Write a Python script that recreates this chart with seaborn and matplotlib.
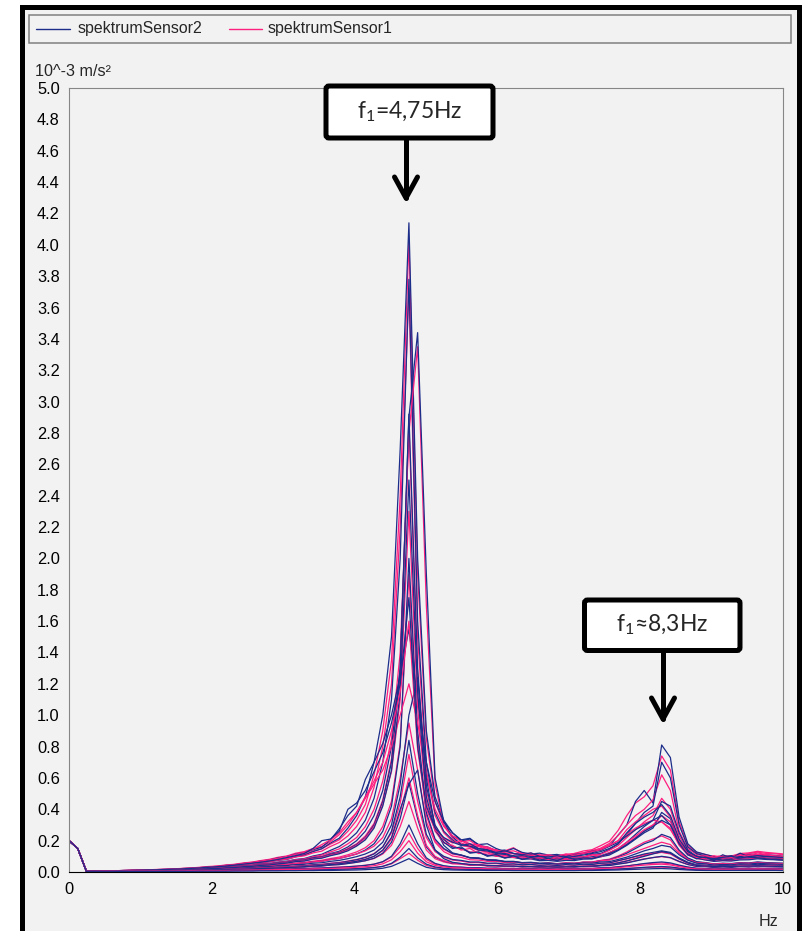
import numpy as np
import matplotlib
matplotlib.use('Agg')
import matplotlib.pyplot as plt
import matplotlib.transforms as mtransforms
from matplotlib.patches import Rectangle, FancyBboxPatch
from matplotlib.lines import Line2D
import seaborn as sns

W, H = 802, 931

# FFT bins (250 Hz / 2048 points), values below in 1e-6 m/s^2 (plotted as 10^-3)
freq_hz = np.arange(83) * 250 / 2048

s2_r01 = [200, 150, 5, 6, 7, 8, 9, 10,
          11, 12, 14, 15, 17, 19, 21, 24,
          28, 33, 36, 43, 47, 55, 58, 66,
          74, 80, 97, 108, 130, 148, 185, 215,
          280, 360, 480, 700, 1000, 1500, 2700, 4140,
          2000, 900, 480, 330, 250, 205, 215, 170,
          160, 135, 140, 118, 112, 98, 100, 88,
          95, 104, 100, 118, 122, 145, 165, 235,
          300, 450, 520, 440, 810, 730, 350, 180,
          128, 112, 98, 96, 104, 100, 115, 112,
          110, 106, 100]
s1_r01 = [200, 150, 5, 6, 7, 8, 9, 10,
          11, 12, 13, 15, 17, 19, 22, 25,
          30, 33, 41, 45, 53, 57, 66, 70,
          82, 88, 104, 112, 134, 148, 178, 205,
          260, 330, 430, 620, 900, 1350, 2400, 4030,
          1900, 850, 450, 300, 230, 205, 180, 170,
          148, 142, 122, 118, 108, 106, 98, 102,
          104, 112, 118, 134, 142, 168, 196, 265,
          360, 440, 480, 550, 740, 650, 320, 170,
          125, 112, 98, 104, 102, 118, 122, 132,
          125, 120, 115]
s2_r02 = [200, 150, 5, 5, 6, 7, 8, 9,
          10, 11, 12, 13, 15, 17, 19, 21,
          25, 27, 33, 35, 41, 44, 52, 55,
          63, 69, 80, 86, 102, 113, 138, 162,
          200, 250, 330, 470, 700, 1100, 2000, 3780,
          1600, 700, 380, 260, 205, 170, 165, 148,
          142, 122, 118, 102, 104, 92, 94, 84,
          88, 86, 98, 96, 112, 118, 144, 178,
          240, 310, 380, 420, 700, 600, 300, 160,
          118, 102, 88, 90, 84, 94, 92, 102,
          98, 96, 90]
s1_r02 = [200, 150, 5, 6, 6, 7, 8, 9,
          10, 11, 13, 14, 16, 18, 20, 23,
          27, 29, 36, 39, 47, 51, 59, 65,
          76, 82, 96, 103, 122, 133, 163, 188,
          230, 290, 380, 540, 800, 1200, 2200, 3720,
          1500, 650, 360, 250, 195, 185, 165, 162,
          142, 133, 118, 117, 108, 112, 103, 101,
          98, 107, 108, 122, 133, 152, 182, 232,
          300, 360, 400, 460, 620, 520, 260, 150,
          112, 102, 93, 97, 98, 112, 118, 127,
          118, 116, 110]
s2_r03 = [200, 150, 5, 5, 6, 7, 8, 9,
          10, 11, 12, 13, 14, 16, 18, 20,
          24, 25, 31, 33, 39, 41, 48, 51,
          60, 63, 74, 78, 92, 98, 118, 132,
          160, 200, 260, 360, 520, 800, 1300, 2900,
          3440, 1900, 600, 320, 225, 175, 165, 140,
          134, 118, 112, 98, 97, 88, 87, 79,
          82, 78, 87, 88, 97, 103, 123, 148,
          190, 240, 290, 330, 450, 420, 250, 140,
          98, 87, 78, 82, 78, 87, 88, 92,
          88, 86, 80]
s1_r03 = [200, 150, 5, 5, 6, 7, 8, 9,
          10, 11, 12, 13, 15, 16, 18, 21,
          25, 26, 32, 34, 40, 43, 50, 54,
          62, 67, 78, 83, 97, 108, 128, 147,
          180, 220, 290, 400, 580, 850, 1400, 2800,
          3350, 1700, 560, 300, 215, 170, 158, 137,
          128, 112, 107, 98, 97, 88, 90, 83,
          87, 86, 94, 96, 107, 113, 138, 168,
          220, 270, 320, 360, 470, 400, 230, 130,
          93, 87, 78, 84, 83, 92, 93, 97,
          90, 89, 85]
s2_r04 = [200, 150, 5, 5, 6, 6, 7, 8,
          9, 10, 11, 12, 13, 15, 17, 19,
          22, 23, 28, 30, 36, 38, 45, 48,
          56, 61, 72, 76, 90, 96, 113, 122,
          145, 175, 220, 300, 450, 700, 1300, 2920,
          1300, 550, 300, 210, 160, 150, 125, 124,
          106, 103, 92, 93, 82, 83, 72, 74,
          68, 74, 73, 82, 83, 97, 108, 137,
          170, 210, 250, 280, 380, 340, 200, 120,
          88, 77, 68, 72, 70, 77, 78, 84,
          80, 78, 75]
s1_r04 = [200, 150, 5, 5, 6, 7, 7, 8,
          9, 10, 11, 12, 14, 15, 17, 19,
          23, 24, 29, 31, 37, 39, 46, 49,
          57, 62, 73, 78, 92, 98, 115, 126,
          150, 180, 230, 310, 460, 720, 1250, 2850,
          1250, 520, 290, 205, 160, 150, 128, 126,
          108, 108, 95, 95, 85, 87, 77, 80,
          74, 80, 80, 88, 90, 102, 113, 143,
          180, 220, 260, 300, 360, 320, 190, 115,
          86, 78, 70, 74, 73, 82, 83, 90,
          86, 82, 80]
s2_r05 = [200, 150, 5, 5, 5, 6, 6, 7,
          8, 9, 10, 11, 12, 13, 14, 16,
          19, 19, 23, 24, 29, 30, 35, 37,
          43, 46, 53, 57, 65, 69, 80, 86,
          100, 115, 140, 180, 260, 420, 800, 2000,
          900, 380, 210, 150, 118, 108, 92, 90,
          78, 77, 68, 68, 60, 62, 56, 58,
          53, 57, 56, 62, 62, 72, 78, 97,
          120, 150, 180, 200, 240, 220, 140, 90,
          66, 60, 52, 56, 54, 60, 58, 64,
          60, 58, 56]
s1_r05 = [200, 150, 5, 5, 6, 6, 7, 7,
          8, 9, 10, 11, 12, 14, 15, 17,
          20, 20, 25, 26, 31, 32, 38, 40,
          46, 49, 57, 61, 69, 75, 86, 95,
          110, 128, 155, 200, 290, 450, 820, 1900,
          850, 360, 200, 145, 115, 105, 90, 88,
          76, 74, 66, 66, 59, 60, 54, 57,
          53, 58, 56, 63, 64, 74, 82, 102,
          128, 160, 190, 210, 230, 205, 130, 85,
          63, 58, 50, 54, 52, 58, 56, 62,
          58, 56, 55]
s2_r06 = [200, 150, 5, 6, 7, 8, 9, 10,
          12, 13, 15, 17, 19, 22, 25, 28,
          33, 35, 42, 46, 54, 59, 69, 77,
          90, 98, 114, 123, 142, 158, 205, 275,
          360, 420, 590, 700, 820, 1000, 1250, 1550,
          1100, 700, 450, 320, 250, 200, 210, 175,
          180, 150, 130, 150, 125, 115, 120, 108,
          112, 98, 112, 116, 132, 138, 164, 188,
          230, 270, 300, 330, 360, 300, 190, 130,
          102, 88, 90, 88, 97, 98, 107, 108,
          105, 100, 98]
s1_r06 = [200, 150, 5, 6, 7, 8, 9, 11,
          12, 14, 16, 18, 20, 23, 26, 30,
          35, 38, 45, 49, 58, 63, 73, 81,
          94, 102, 120, 130, 150, 163, 192, 238,
          300, 380, 470, 560, 650, 800, 1000, 1200,
          950, 620, 400, 290, 230, 195, 200, 165,
          160, 138, 135, 155, 118, 112, 110, 104,
          106, 106, 118, 122, 138, 148, 174, 198,
          240, 280, 310, 330, 320, 270, 180, 125,
          102, 90, 92, 90, 98, 100, 110, 110,
          108, 104, 100]
s2_r07 = [200, 150, 5, 5, 6, 6, 7, 8,
          8, 9, 10, 11, 12, 13, 14, 15,
          18, 18, 22, 23, 27, 28, 33, 34,
          39, 41, 47, 49, 56, 59, 68, 74,
          85, 98, 115, 140, 190, 300, 560, 1000,
          1240, 600, 280, 170, 122, 108, 90, 86,
          76, 74, 66, 66, 58, 60, 54, 56,
          50, 54, 52, 58, 56, 64, 66, 80,
          95, 115, 135, 150, 170, 160, 110, 75,
          56, 52, 44, 48, 46, 52, 50, 56,
          52, 50, 48]
s1_r07 = [200, 150, 5, 5, 6, 6, 7, 8,
          9, 10, 11, 12, 13, 14, 15, 17,
          20, 20, 24, 25, 30, 31, 37, 39,
          45, 47, 54, 57, 65, 69, 79, 87,
          100, 115, 135, 165, 220, 340, 600, 950,
          650, 320, 190, 130, 102, 93, 78, 76,
          68, 68, 60, 62, 56, 58, 53, 56,
          52, 57, 55, 62, 62, 72, 76, 92,
          110, 130, 150, 170, 190, 175, 120, 80,
          60, 57, 50, 54, 51, 57, 55, 60,
          56, 54, 52]
s2_r08 = [200, 150, 5, 5, 5, 6, 6, 7,
          7, 8, 8, 9, 10, 11, 12, 13,
          15, 15, 18, 18, 22, 22, 26, 27,
          31, 32, 37, 39, 45, 47, 54, 59,
          68, 78, 92, 115, 160, 260, 480, 840,
          500, 240, 140, 100, 80, 74, 64, 64,
          56, 57, 50, 52, 46, 48, 43, 46,
          42, 47, 44, 50, 48, 56, 58, 72,
          85, 100, 115, 125, 135, 125, 90, 62,
          46, 44, 38, 42, 40, 46, 44, 50,
          46, 44, 42]
s1_r08 = [200, 150, 5, 5, 5, 6, 6, 7,
          7, 8, 9, 9, 10, 11, 12, 13,
          16, 16, 19, 19, 23, 23, 27, 28,
          33, 34, 39, 41, 47, 49, 56, 61,
          70, 80, 95, 118, 160, 250, 440, 750,
          450, 220, 130, 95, 76, 70, 60, 60,
          53, 54, 48, 50, 44, 47, 42, 45,
          41, 46, 43, 49, 48, 56, 58, 72,
          84, 98, 110, 120, 128, 118, 86, 60,
          44, 43, 37, 41, 39, 45, 43, 48,
          45, 43, 41]
s2_r09 = [200, 150, 5, 5, 5, 5, 6, 6,
          7, 7, 8, 8, 9, 10, 10, 11,
          13, 13, 15, 15, 18, 18, 22, 22,
          26, 26, 31, 32, 37, 38, 44, 47,
          54, 62, 72, 88, 120, 190, 340, 570,
          340, 160, 95, 70, 56, 54, 46, 47,
          40, 41, 36, 37, 33, 35, 31, 34,
          30, 34, 32, 36, 35, 40, 41, 50,
          58, 70, 82, 92, 100, 92, 68, 48,
          36, 35, 29, 33, 30, 35, 32, 37,
          34, 33, 32]
s1_r09 = [200, 150, 5, 5, 5, 5, 6, 6,
          7, 7, 8, 8, 9, 10, 11, 12,
          14, 14, 16, 16, 19, 19, 23, 23,
          27, 27, 32, 33, 38, 39, 45, 48,
          55, 62, 72, 86, 115, 170, 290, 450,
          280, 140, 85, 64, 52, 50, 42, 44,
          38, 40, 34, 37, 32, 35, 30, 34,
          30, 34, 32, 37, 36, 42, 43, 52,
          60, 72, 84, 92, 98, 90, 66, 48,
          36, 36, 30, 34, 31, 36, 33, 38,
          35, 34, 33]
s2_r10 = [200, 150, 4, 4, 4, 5, 5, 5,
          6, 6, 6, 7, 7, 8, 8, 9,
          10, 10, 12, 12, 14, 14, 16, 16,
          18, 18, 21, 21, 24, 25, 28, 30,
          33, 37, 42, 50, 66, 100, 180, 300,
          180, 90, 55, 40, 33, 31, 27, 27,
          24, 25, 22, 23, 20, 22, 19, 21,
          19, 21, 20, 23, 22, 26, 27, 33,
          38, 46, 54, 60, 64, 58, 44, 32,
          24, 23, 19, 21, 20, 23, 21, 24,
          22, 22, 21]
s1_r10 = [200, 150, 4, 4, 4, 5, 5, 5,
          6, 6, 7, 7, 8, 8, 9, 9,
          11, 11, 13, 13, 15, 15, 17, 17,
          19, 19, 22, 22, 25, 26, 29, 31,
          34, 38, 43, 50, 64, 95, 160, 250,
          150, 80, 50, 38, 31, 30, 26, 26,
          23, 24, 21, 23, 20, 22, 19, 21,
          19, 22, 21, 24, 23, 27, 28, 34,
          39, 46, 52, 56, 58, 52, 40, 30,
          23, 22, 19, 21, 20, 23, 21, 24,
          22, 22, 21]
s2_r11 = [200, 150, 3, 3, 3, 3, 4, 4,
          4, 4, 5, 5, 5, 6, 6, 6,
          7, 7, 8, 8, 9, 9, 10, 10,
          11, 12, 12, 13, 14, 15, 16, 18,
          19, 21, 24, 28, 36, 55, 95, 150,
          90, 50, 32, 24, 20, 18, 17, 16,
          15, 15, 14, 14, 13, 13, 13, 13,
          13, 13, 13, 14, 14, 15, 17, 19,
          22, 26, 30, 33, 35, 32, 25, 19,
          15, 14, 13, 13, 13, 14, 14, 14,
          14, 14, 13]
s1_r11 = [200, 150, 3, 3, 3, 3, 4, 4,
          4, 5, 5, 5, 6, 6, 6, 7,
          7, 8, 8, 9, 9, 10, 10, 11,
          11, 12, 13, 14, 15, 16, 17, 18,
          20, 22, 25, 29, 36, 52, 85, 120,
          75, 42, 28, 22, 19, 17, 16, 15,
          15, 14, 14, 13, 13, 13, 13, 13,
          13, 13, 14, 14, 15, 16, 17, 19,
          22, 25, 28, 30, 31, 28, 22, 17,
          15, 14, 13, 13, 13, 14, 14, 14,
          14, 13, 13]
s2_r12 = [200, 150, 5, 5, 6, 7, 7, 8,
          9, 10, 11, 12, 13, 14, 16, 18,
          21, 22, 27, 28, 34, 36, 42, 45,
          52, 57, 66, 70, 82, 88, 104, 116,
          135, 165, 205, 280, 420, 650, 1150, 2500,
          1150, 480, 270, 190, 150, 160, 120, 128,
          100, 112, 88, 104, 80, 92, 76, 88,
          72, 96, 80, 90, 86, 100, 118, 140,
          175, 215, 260, 290, 330, 300, 180, 110,
          84, 98, 72, 110, 88, 120, 96, 90,
          84, 80, 76]
s1_r12 = [200, 150, 5, 5, 6, 6, 7, 8,
          9, 10, 11, 12, 13, 15, 16, 18,
          22, 23, 28, 29, 35, 37, 43, 46,
          53, 58, 67, 72, 84, 92, 108, 120,
          140, 170, 215, 290, 430, 640, 1100, 2300,
          1050, 450, 260, 185, 170, 140, 150, 118,
          122, 100, 104, 92, 96, 84, 90, 80,
          98, 84, 108, 90, 112, 96, 124, 150,
          190, 230, 270, 300, 320, 280, 170, 108,
          92, 84, 104, 88, 96, 112, 104, 122,
          110, 102, 96]
s2_r13 = [200, 150, 5, 6, 7, 8, 9, 10,
          11, 13, 14, 16, 18, 20, 23, 26,
          30, 34, 38, 44, 50, 56, 62, 70,
          80, 92, 104, 118, 150, 200, 210, 260,
          400, 440, 520, 640, 760, 950, 1200, 1750,
          800, 420, 280, 220, 190, 170, 180, 150,
          140, 125, 135, 118, 110, 122, 100, 96,
          104, 92, 100, 108, 118, 130, 150, 180,
          250, 310, 350, 380, 430, 360, 210, 130,
          100, 92, 86, 94, 100, 90, 98, 104,
          100, 96, 92]
s1_r13 = [200, 150, 5, 6, 7, 8, 9, 11,
          12, 13, 15, 17, 19, 22, 25, 28,
          32, 37, 42, 48, 54, 62, 70, 78,
          88, 100, 112, 125, 145, 175, 205, 250,
          320, 380, 480, 580, 700, 900, 1150, 1600,
          780, 400, 270, 215, 185, 200, 170, 175,
          150, 140, 128, 135, 115, 120, 104, 110,
          100, 115, 106, 118, 130, 142, 168, 200,
          270, 320, 360, 400, 420, 350, 200, 125,
          98, 104, 90, 100, 92, 108, 100, 112,
          104, 98, 95]
s2_r14 = [200, 150, 4, 5, 5, 5, 6, 6,
          7, 7, 8, 8, 9, 10, 11, 12,
          13, 14, 15, 17, 18, 20, 22, 24,
          26, 28, 31, 34, 38, 42, 47, 52,
          60, 68, 80, 100, 140, 220, 400, 560,
          650, 300, 140, 85, 62, 54, 48, 46,
          42, 40, 38, 37, 35, 34, 33, 33,
          32, 33, 34, 36, 38, 42, 48, 58,
          70, 85, 100, 115, 130, 120, 85, 58,
          42, 38, 35, 34, 35, 37, 38, 40,
          38, 36, 35]
s1_r14 = [200, 150, 4, 5, 5, 5, 6, 6,
          7, 7, 8, 9, 9, 10, 11, 12,
          13, 14, 16, 17, 19, 21, 23, 25,
          27, 30, 33, 36, 40, 44, 49, 55,
          62, 70, 82, 100, 135, 210, 380, 600,
          360, 170, 100, 72, 58, 52, 47, 45,
          41, 39, 37, 36, 35, 34, 33, 33,
          33, 34, 35, 37, 39, 44, 50, 60,
          72, 88, 104, 118, 125, 115, 82, 56,
          42, 38, 35, 35, 36, 38, 39, 41,
          39, 37, 36]
s2_r15 = [200, 150, 2, 2, 2, 2, 3, 3,
          3, 3, 3, 4, 4, 4, 4, 5,
          5, 5, 5, 6, 6, 6, 7, 7,
          7, 8, 8, 9, 9, 10, 10, 11,
          12, 13, 15, 18, 24, 36, 60, 85,
          55, 30, 20, 15, 13, 12, 11, 11,
          10, 10, 10, 9, 9, 9, 9, 9,
          9, 9, 9, 10, 10, 11, 12, 13,
          15, 17, 19, 21, 22, 20, 16, 13,
          11, 10, 10, 10, 10, 10, 10, 10,
          10, 10, 9]
s1_r15 = [200, 150, 3, 3, 4, 4, 4, 5,
          5, 5, 6, 6, 7, 7, 8, 8,
          9, 9, 10, 11, 11, 12, 13, 14,
          15, 16, 17, 18, 20, 21, 23, 25,
          27, 30, 34, 40, 52, 78, 130, 200,
          120, 65, 42, 32, 27, 25, 23, 22,
          21, 20, 19, 19, 18, 18, 17, 17,
          17, 18, 18, 19, 20, 22, 24, 28,
          33, 39, 44, 48, 50, 45, 34, 25,
          20, 19, 17, 18, 18, 19, 19, 20,
          19, 19, 18]

sensor1_runs = [s1_r01, s1_r02, s1_r03, s1_r04, s1_r05, s1_r06, s1_r07, s1_r08,
                s1_r09, s1_r10, s1_r11, s1_r12, s1_r13, s1_r14, s1_r15]
sensor2_runs = [s2_r01, s2_r02, s2_r03, s2_r04, s2_r05, s2_r06, s2_r07, s2_r08,
                s2_r09, s2_r10, s2_r11, s2_r12, s2_r13, s2_r14, s2_r15]

y_ticks = np.arange(0, 5.01, 0.2)
x_ticks = [0, 2, 4, 6, 8, 10]

blue = '#1c2d8a'
pink = '#ff1f7f'
bg = '#f2f2f2'

sns.set_style('white')
plt.rcParams['font.family'] = ['Liberation Sans', 'DejaVu Sans']
plt.rcParams['mathtext.fontset'] = 'custom'
plt.rcParams['mathtext.rm'] = 'Lato'
plt.rcParams['mathtext.default'] = 'regular'

fig = plt.figure(figsize=(W / 100, H / 100), dpi=100, facecolor='white')
# pixel coords, origin top-left
pix = mtransforms.Affine2D().scale(1 / W, -1 / H).translate(0, 1) + fig.transFigure

# outer black frame + legend box
fig.add_artist(Rectangle((22, 7), 777, 940, transform=pix, fc=bg, ec='black',
                         lw=3.6, zorder=-1))
fig.add_artist(Rectangle((29, 15), 762, 28, transform=pix, fc=bg, ec='#808080',
                         lw=1.1, zorder=1))
fig.add_artist(Line2D([36, 70], [29, 29], transform=pix, color=blue, lw=1.0))
fig.text(78, 29, 'spektrumSensor2', transform=pix, ha='left', va='center', fontsize=11.4)
fig.add_artist(Line2D([229, 262], [29, 29], transform=pix, color=pink, lw=1.0))
fig.text(268, 29, 'spektrumSensor1', transform=pix, ha='left', va='center', fontsize=11.4)

ax = fig.add_axes([69 / W, 1 - 872 / H, (783 - 69) / W, (872 - 88) / H])
ax.set_facecolor(bg)

for r1, r2 in zip(sensor1_runs, sensor2_runs):
    sns.lineplot(x=freq_hz, y=np.array(r1) / 1000, color=pink, lw=0.9,
                 estimator=None, ax=ax)
    sns.lineplot(x=freq_hz, y=np.array(r2) / 1000, color=blue, lw=0.9,
                 estimator=None, ax=ax)

ax.set_xlim(0, 10)
ax.set_ylim(0, 5)
ax.set_xticks(x_ticks)
ax.set_xticklabels([str(v) for v in x_ticks])
ax.set_yticks(y_ticks)
ax.set_yticklabels([f'{v:.1f}' for v in y_ticks])
ax.set_xlabel('')
ax.set_ylabel('')
ax.tick_params(axis='both', direction='out', length=3.6, width=0.8,
               color='#808080', labelcolor='black', labelsize=11.8)
ax.tick_params(axis='x', pad=3.8)
ax.tick_params(axis='y', pad=3)
for side in ['left', 'top', 'right']:
    ax.spines[side].set_color('#868686')
    ax.spines[side].set_linewidth(0.8)
ax.spines['bottom'].set_color('black')
ax.spines['bottom'].set_linewidth(0.8)

fig.text(35, 71, '10^-3 m/s²', transform=pix, ha='left', va='center', fontsize=11.6)
fig.text(768, 921, 'Hz', transform=pix, ha='center', va='center', fontsize=11.6)

# annotation boxes with arrows
notes = [
    ((326, 86, 167, 52), 'f$_1$=4,75Hz', 406, 138, 200),
    ((584.5, 600, 155.5, 50.5), 'f$_1$≈8,3Hz', 663, 650.5, 721),
]
for (bx, by, bw, bh), label, axx, y0, tip in notes:
    fig.add_artist(FancyBboxPatch((bx, by), bw, bh, boxstyle='round,pad=0,rounding_size=3',
                                  transform=pix, fc='white', ec='black', lw=3.6, zorder=10))
    fig.text(bx + bw / 2, by + bh / 2, label, transform=pix, ha='center', va='center',
             fontsize=16.5, family=['Lato', 'DejaVu Sans'], zorder=11)
    fig.add_artist(Line2D([axx, axx], [y0, tip - 2], transform=pix, color='black',
                          lw=3.6, zorder=10))
    fig.add_artist(Line2D([axx - 11.5, axx, axx + 11.5], [tip - 23, tip - 2, tip - 23],
                          transform=pix, color='black', lw=3.6, zorder=10,
                          solid_joinstyle='round', solid_capstyle='round'))

fig.savefig('out.png', dpi=100, facecolor='white')
